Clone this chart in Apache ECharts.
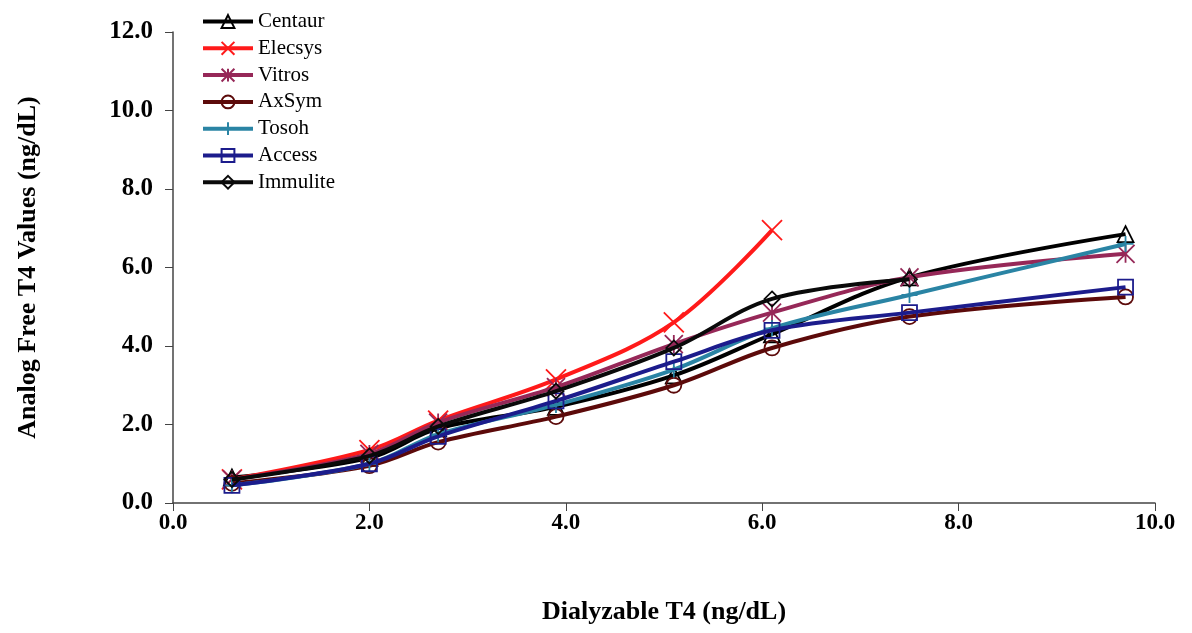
<!DOCTYPE html>
<html>
<head>
<meta charset="utf-8">
<script src="https://cdn.jsdelivr.net/npm/echarts@6/dist/echarts.min.js"></script>
<style>html,body{margin:0;padding:0;background:#fff}#c{width:1192px;height:633px}</style>
</head>
<body>
<div id="c"></div>
<script>
const xValues = [0.6, 2.0, 2.7, 3.9, 5.1, 6.1, 7.5, 9.7];
const seriesNames = ['Centaur','Elecsys','Vitros','AxSym','Tosoh','Access','Immulite'];
const centaur  = [0.65, 1.15, 1.9, 2.45, 3.25, 4.3, 5.75, 6.85];
const elecsys  = [0.6, 1.35, 2.1, 3.15, 4.6, 6.95, null, null];
const vitros   = [0.6, 1.25, 2.05, 2.95, 4.05, 4.85, 5.75, 6.35];
const axsym    = [0.5, 0.95, 1.55, 2.2, 3.0, 3.95, 4.75, 5.25];
const tosoh    = [0.45, 1.0, 1.75, 2.5, 3.4, 4.45, 5.3, 6.6];
const access   = [0.45, 1.0, 1.7, 2.6, 3.6, 4.4, 4.85, 5.5];
const immulite = [0.6, 1.2, 1.95, 2.85, 3.95, 5.2, 5.7, null];
const yTicks = [0, 2, 4, 6, 8, 10, 12];
const xTicks = [0, 2, 4, 6, 8, 10];

const colors = ['#000000', '#ff1a1a', '#962858', '#5c0a0a', '#2a84a4', '#1c1c8c', '#0a0a0a'];
const symbols = [
  'triangle',
  'path://M0,0L10,10M10,0L0,10',
  'path://M0,0L10,10M10,0L0,10M5,0L5,10',
  'circle',
  'path://M5,0L5,10M0,5L10,5',
  'rect',
  'diamond'
];
const symbolSizes = [16, 20, 18, 15, 16, 15, 15];
const allData = [centaur, elecsys, vitros, axsym, tosoh, access, immulite];

const series = seriesNames.map((name, i) => ({
  name: name,
  type: 'line',
  smooth: 0.35,
  data: xValues.map((x, j) => allData[i][j] == null ? null : [x, allData[i][j]]).filter(d => d),
  symbol: symbols[i],
  symbolSize: symbolSizes[i],
  showAllSymbol: true,
  color: colors[i],
  lineStyle: { color: colors[i], width: 4 },
  itemStyle: { color: 'none', borderColor: colors[i], borderWidth: 1.8 },
  emphasis: { disabled: true },
  z: 2 + i
}));

const chart = echarts.init(document.getElementById('c'), null, { renderer: 'canvas' });
chart.setOption({
  backgroundColor: '#ffffff',
  animation: false,
  grid: { left: 173, right: 37, top: 32, bottom: 130, containLabel: false },
  legend: {
    orient: 'vertical',
    left: 196,
    top: 6,
    itemWidth: 50,
    itemHeight: 16,
    itemGap: 5.8,
    lineStyle: { width: 4 },
    textStyle: { fontFamily: 'Liberation Serif', fontSize: 21, color: '#000', lineHeight: 18, padding: [2, 0, 0, 0] },
    data: seriesNames
  },
  xAxis: {
    type: 'value',
    min: 0, max: 10, interval: 2,
    name: 'Dialyzable T4 (ng/dL)',
    nameLocation: 'middle',
    nameGap: 96,
    nameTextStyle: { fontFamily: 'Liberation Serif', fontWeight: 'bold', fontSize: 26, color: '#000' },
    axisLine: { lineStyle: { color: '#444', width: 1.5 } },
    axisTick: { show: true, inside: false, length: 8, lineStyle: { color: '#444' } },
    axisLabel: { margin: 9, fontFamily: 'Liberation Serif', fontWeight: 'bold', fontSize: 23, color: '#000',
      formatter: v => v.toFixed(1) },
    splitLine: { show: false }
  },
  yAxis: {
    type: 'value',
    min: 0, max: 12, interval: 2,
    name: 'Analog Free T4 Values (ng/dL)',
    nameLocation: 'middle',
    nameGap: 132,
    nameRotate: 90,
    nameTextStyle: { fontFamily: 'Liberation Serif', fontWeight: 'bold', fontSize: 26, color: '#000' },
    axisLine: { show: true, lineStyle: { color: '#444', width: 1.5 } },
    axisTick: { show: true, inside: false, length: 8, lineStyle: { color: '#444' } },
    axisLabel: { margin: 20, fontFamily: 'Liberation Serif', fontWeight: 'bold', fontSize: 25, color: '#000',
      formatter: v => v.toFixed(1) },
    splitLine: { show: false }
  },
  series: series
});
</script>
</body>
</html>
